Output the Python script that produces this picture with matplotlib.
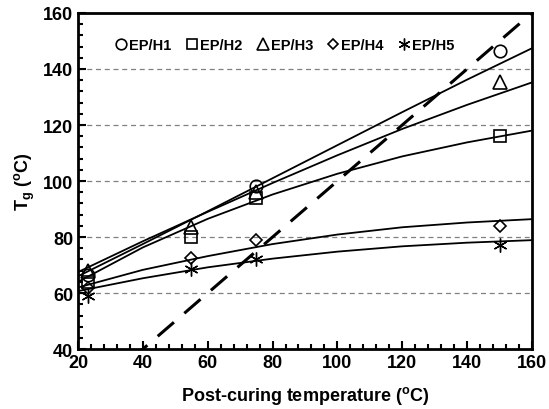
import numpy as np
import matplotlib.pyplot as plt
from matplotlib.ticker import MultipleLocator

plt.rcParams['font.family'] = ['Liberation Sans', 'DejaVu Sans']
plt.rcParams['font.weight'] = 'bold'
plt.rcParams['mathtext.default'] = 'regular'

# измеренные точки
x_pts = [23, 55, 75, 150]
h1_pts = [66.5, np.nan, 98.3, 146.4]
h2_pts = [64, 80, 94, 116]
h3_pts = [68, 83.5, 96, 135.5]
h4_pts = [62, 72.5, 79, 84]
h5_pts = [59, 68.5, 72, 77]

# аппроксимирующие кривые
x_fit = [20, 40, 60, 80, 100, 120, 140, 160]
h1_fit = [66, 77.5, 89.2, 101, 112.8, 124.6, 136.2, 147.4]
h2_fit = [64, 76.3, 86.5, 95.2, 102.6, 108.8, 113.8, 118]
h3_fit = [67.5, 78.5, 89, 99.3, 109.2, 118.6, 127.2, 135.2]
h4_fit = [62, 68.3, 73.2, 77.5, 80.9, 83.5, 85.2, 86.4]
h5_fit = [60.7, 65.3, 69.2, 72.3, 74.8, 76.7, 78.0, 78.9]

# линия Tg = T
diag = [20, 160]

labels = ["EP/H1", "EP/H2", "EP/H3", "EP/H4", "EP/H5"]
markers = ["o", "s", "^", "D", (6, 2, 0)]
sizes = [9, 8.5, 9.5, 6.5, 10]
widths = [1.2, 1.2, 1.2, 1.2, 1.0]

fig = plt.figure(figsize=(5.49, 4.10), dpi=100)
ax = fig.add_axes([0.142, 0.146, 0.827, 0.820])

for yf in [h1_fit, h2_fit, h3_fit, h4_fit, h5_fit]:
    ax.plot(x_fit, yf, color="black", lw=1.3, zorder=3)

ax.plot(diag, diag, color="black", lw=2.2, dashes=(7, 4.5), zorder=3)

for yp, m, ms, mw, lab in zip([h1_pts, h2_pts, h3_pts, h4_pts, h5_pts], markers, sizes, widths, labels):
    ax.plot(x_pts, yp, ls="none", marker=m, ms=ms, mfc="none", mec="black",
            mew=mw, label=lab, zorder=4)

ax.set_xlim(20, 160)
ax.set_ylim(40, 160)
ax.xaxis.set_major_locator(MultipleLocator(20))
ax.xaxis.set_minor_locator(MultipleLocator(4))
ax.yaxis.set_major_locator(MultipleLocator(20))
ax.yaxis.set_minor_locator(MultipleLocator(4))
ax.tick_params(which="both", direction="in", width=1.5, labelsize=13)
ax.tick_params(which="major", length=6)
ax.tick_params(which="minor", length=3.5)
for s in ax.spines.values():
    s.set_linewidth(2)

for g in [60, 80, 100, 120, 140]:
    ax.axhline(g, color="gray", lw=0.9, ls=(0, (4, 3)), zorder=1)

ax.set_xlabel("Post-curing temperature ($^{o}$C)", fontsize=13, fontweight="bold", labelpad=9)
ax.set_ylabel("T$_{g}$ ($^{o}$C)", fontsize=13, fontweight="bold", labelpad=4)

ax.legend(loc="upper left", bbox_to_anchor=(0.05, 0.965), ncol=5, frameon=False,
          handletextpad=0.05, columnspacing=0.9, handlelength=1.0, markerscale=0.85,
          prop={"size": 10.5, "weight": "bold"})

plt.savefig("out.png", dpi=100)
